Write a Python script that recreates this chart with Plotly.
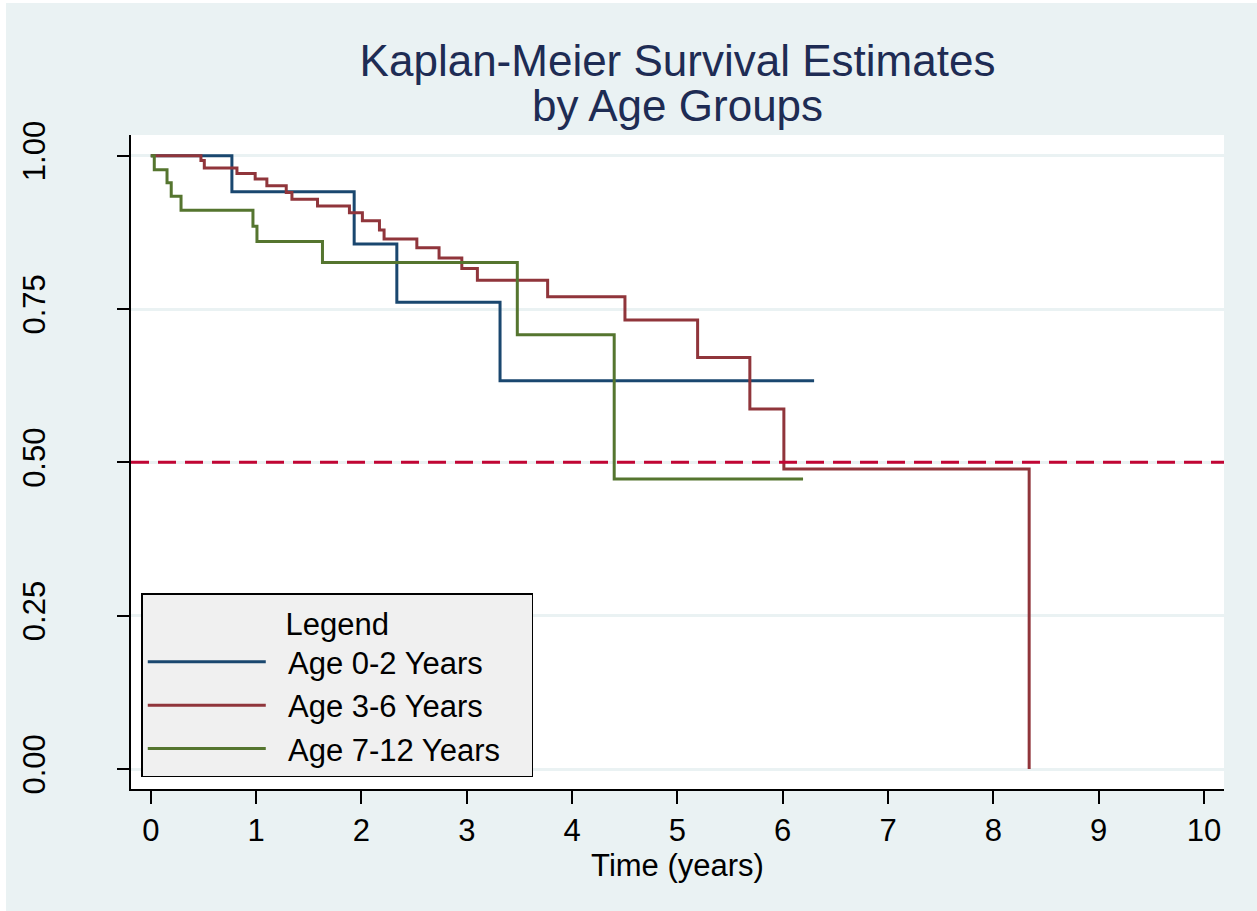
import plotly.graph_objects as go

# ---- data ----
blue_t = [0.0, 0.770, 1.931, 2.336, 3.316, 6.298]
blue_s = [1.000, 0.941, 0.856, 0.761, 0.633, 0.633]

red_t = [0.0, 0.476, 0.508, 0.818, 0.991, 1.102, 1.286, 1.340, 1.583, 1.886,
         2.009, 2.171, 2.215, 2.526, 2.737, 2.953, 3.101, 3.768, 4.502, 5.192,
         5.688, 6.011, 8.340]
red_s = [1.000, 0.992, 0.980, 0.971, 0.962, 0.951, 0.940, 0.929, 0.918, 0.907,
         0.894, 0.879, 0.864, 0.850, 0.833, 0.816, 0.797, 0.770, 0.732, 0.671,
         0.587, 0.489, 0.000]

green_t = [0.0, 0.033, 0.154, 0.194, 0.287, 0.970, 1.008, 1.630, 3.480, 4.400, 6.193]
green_s = [1.000, 0.977, 0.956, 0.934, 0.911, 0.885, 0.860, 0.826, 0.708, 0.473, 0.473]

series_names = ["Age 0-2 Years", "Age 3-6 Years", "Age 7-12 Years"]
series_colors = ["#1A476F", "#90353B", "#55752F"]

x_ticks = [0, 1, 2, 3, 4, 5, 6, 7, 8, 9, 10]
y_ticks = [0.0, 0.25, 0.5, 0.75, 1.0]
y_tick_labels = ["0.00", "0.25", "0.50", "0.75", "1.00"]
ref_level = 0.5

FONT = "Liberation Sans, Arial, sans-serif"
BG = "#EAF2F3"

W, H = 1257, 911
ML, MR, MT, MB = 131, 33, 135, 122
pw = W - ML - MR
ph = H - MT - MB

NB = "\u00a0"

fig = go.Figure()
for t, s, name, col in zip([blue_t, red_t, green_t], [blue_s, red_s, green_s],
                           series_names, series_colors):
    fig.add_trace(go.Scatter(x=t, y=s, mode="lines", name=NB * 2 + name + NB * 3,
                             line=dict(color=col, width=3, shape="hv")))

fig.add_hline(y=ref_level, line=dict(color="#C10534", width=3, dash="18px,9px"))

# thin white outer margins (left and top)
fig.add_shape(type="rect", xref="paper", yref="paper", layer="below",
              x0=-ML / pw - 0.01, x1=(6 - ML) / pw, y0=-MB / ph - 0.01, y1=(H - MB) / ph + 0.01,
              fillcolor="white", line=dict(width=0))
fig.add_shape(type="rect", xref="paper", yref="paper", layer="below",
              x0=-ML / pw - 0.01, x1=(W - ML) / pw + 0.01, y0=(H - MB - 3) / ph, y1=(H - MB) / ph + 0.01,
              fillcolor="white", line=dict(width=0))

fig.update_layout(
    width=W, height=H,
    margin=dict(l=ML, r=MR, t=MT, b=MB),
    paper_bgcolor=BG, plot_bgcolor="white",
    font=dict(family=FONT, size=31, color="black"),
    title=dict(text="Kaplan-Meier Survival Estimates", xref="paper", x=0.5,
               xanchor="center", yref="container", y=1 - 45 / H, yanchor="top",
               font=dict(size=44, color="#1E2C54")),
    annotations=[dict(text="by Age Groups", xref="paper", yref="paper", x=0.5,
                      y=(H - MB - 79) / ph, xanchor="center", yanchor="top",
                      showarrow=False, font=dict(size=44, color="#1E2C54"))],
    showlegend=True,
    legend=dict(x=0.0094, y=0.0177, xanchor="left", yanchor="bottom",
                bgcolor="#F0F0F0", bordercolor="black", borderwidth=1.5,
                font=dict(size=31, color="black"), itemwidth=118,
                title=dict(text="Legend", side="top center", font=dict(size=31))),
    xaxis=dict(range=[-0.188, 10.19], tickvals=x_ticks, showgrid=False, zeroline=False,
               showline=True, linecolor="black", linewidth=1.5,
               ticks="outside", ticklen=13, tickwidth=1.5, tickcolor="black",
               tickfont=dict(size=31),
               title=dict(text="Time (years)", font=dict(size=31), standoff=0)),
    yaxis=dict(range=[-0.0326, 1.0337], tickvals=y_ticks, ticktext=y_tick_labels,
               tickangle=-90, showgrid=True, gridcolor=BG, gridwidth=2.5, zeroline=False,
               showline=True, linecolor="black", linewidth=1.5,
               ticks="outside", ticklen=12, tickwidth=1.5, tickcolor="black",
               tickfont=dict(size=31), ticklabelstandoff=60),
)

fig.write_html("out.html")
